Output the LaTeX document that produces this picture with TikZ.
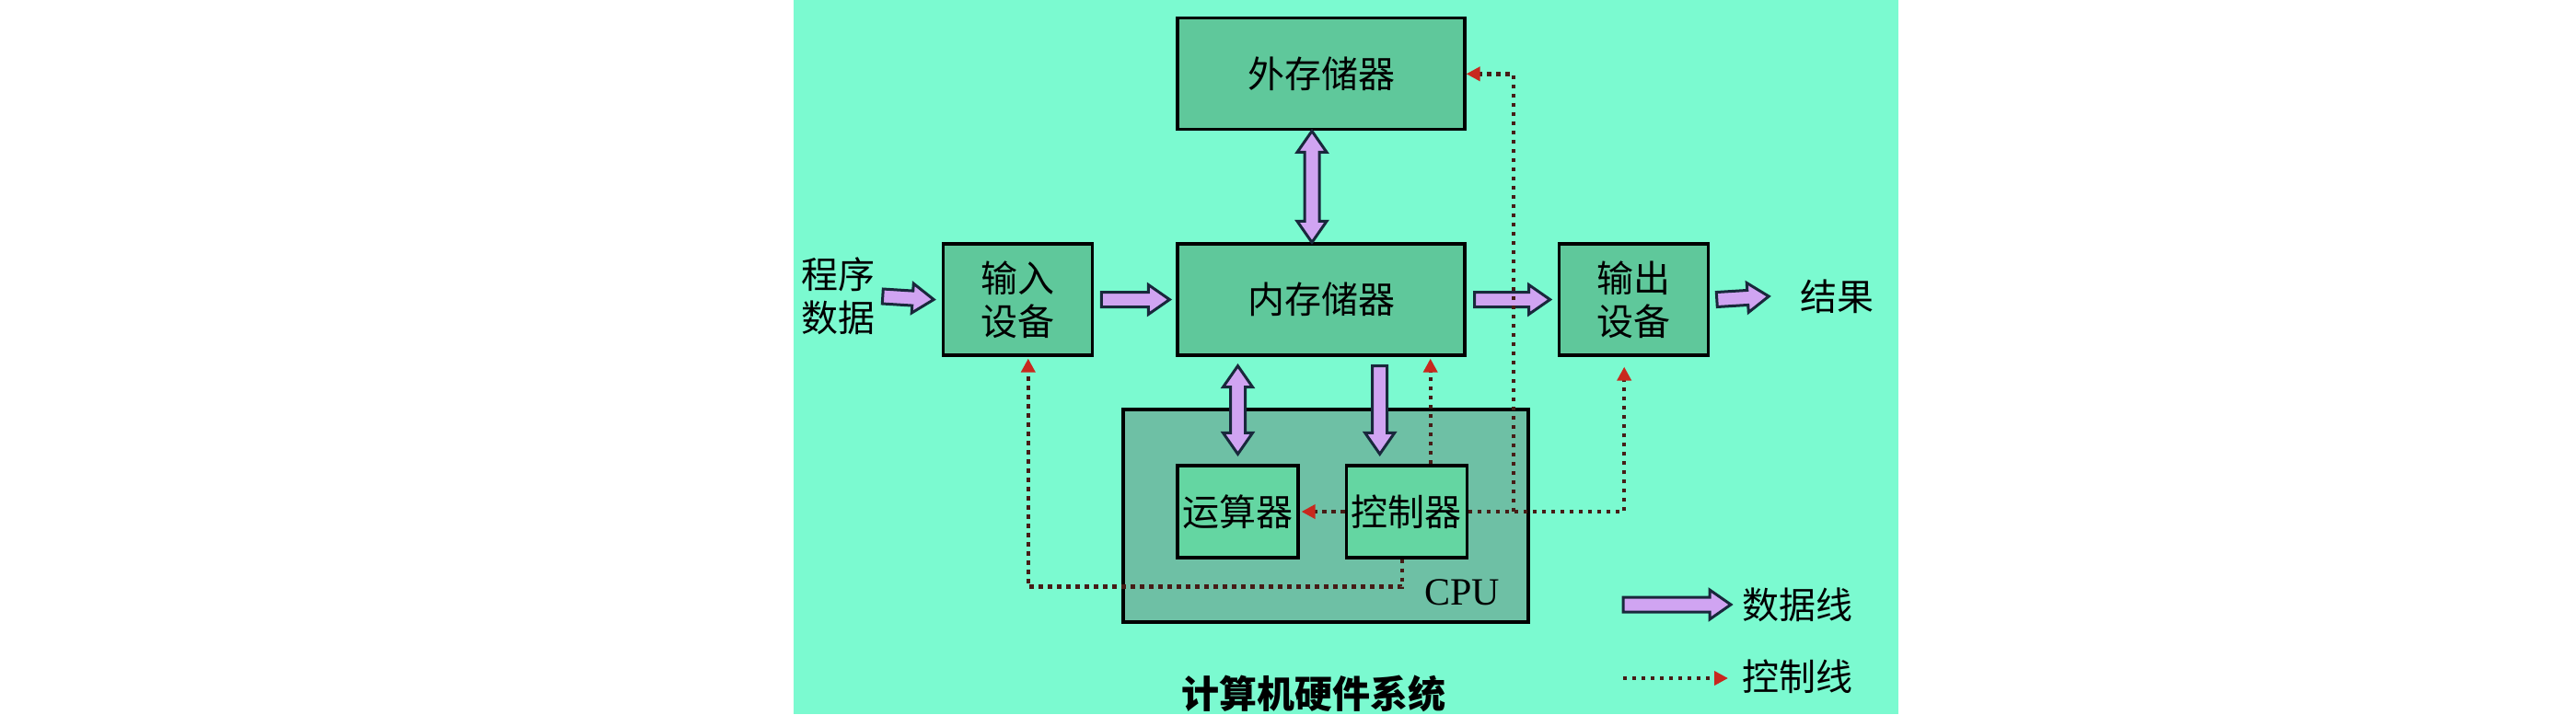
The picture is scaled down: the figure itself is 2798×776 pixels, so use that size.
\documentclass[tikz,border=0pt]{standalone}
\usepackage{fontspec}
\setmainfont{Noto Sans CJK SC}
\newfontfamily\latinserif{Liberation Serif}
\usepackage{tikz}
\usetikzlibrary{positioning}
\usetikzlibrary{calc}
\usetikzlibrary{arrows.meta}
\definecolor{slidebg}{RGB}{123,250,208}
\definecolor{unitfill}{RGB}{95,200,155}
\definecolor{cpufill}{RGB}{110,192,165}
\definecolor{corefill}{RGB}{100,214,162}
\definecolor{lilac}{RGB}{208,164,242}
\definecolor{arrowedge}{RGB}{25,40,60}
\definecolor{ctrldot}{RGB}{70,28,22}
\definecolor{ctrltip}{RGB}{200,40,30}
\tikzset{%
  unitbox/.style={rectangle,draw=black,fill=unitfill,thick,inner sep=0pt,align=center,font=\fontsize{10pt}{11.75pt}\selectfont}
}
\tikzset{%
  corebox/.style={unitbox,fill=corefill,minimum width=32.75pt,minimum height=25pt}
}
\tikzset{%
  labeltext/.style={inner sep=0pt,align=center,font=\fontsize{10pt}{11.75pt}\selectfont}
}
\tikzset{%
  datafat/.style={draw=arrowedge,fill=lilac,line width=0.75pt,line join=miter}
}
\tikzset{%
  ctrlline/.style={draw=ctrldot,line width=1.1pt,dash pattern=on 1.1pt off 1.4pt,-{Triangle[length=3.75pt,width=3.75pt,color=ctrltip]}}
}
\newcommand\fatshaft{2pt}
\newcommand\fathead{4pt}
\newcommand\fatlen{5.75pt}
\newcommand\dataarrow[2]{
    \coordinate (fa-s) at (#1);
    \coordinate (fa-t) at (#2);
    \coordinate (fa-n) at ($(fa-t)!\fatlen!(fa-s)$);
    \draw[datafat] ($(fa-s)!\fatshaft!90:(fa-t)$) -- ($(fa-n)!\fatshaft!90:(fa-t)$)
        -- ($(fa-n)!\fathead!90:(fa-t)$) -- (fa-t) -- ($(fa-n)!\fathead!-90:(fa-t)$)
        -- ($(fa-n)!\fatshaft!-90:(fa-t)$) -- ($(fa-s)!\fatshaft!-90:(fa-t)$) -- cycle;
}
\newcommand\dualarrow[2]{
    \coordinate (fa-s) at (#1);
    \coordinate (fa-t) at (#2);
    \coordinate (fa-n) at ($(fa-t)!\fatlen!(fa-s)$);
    \coordinate (fa-m) at ($(fa-s)!\fatlen!(fa-t)$);
    \draw[datafat] (fa-s) -- ($(fa-m)!\fathead!90:(fa-t)$) -- ($(fa-m)!\fatshaft!90:(fa-t)$)
        -- ($(fa-n)!\fatshaft!90:(fa-t)$) -- ($(fa-n)!\fathead!90:(fa-t)$) -- (fa-t)
        -- ($(fa-n)!\fathead!-90:(fa-t)$) -- ($(fa-n)!\fatshaft!-90:(fa-t)$)
        -- ($(fa-m)!\fatshaft!-90:(fa-t)$) -- ($(fa-m)!\fathead!-90:(fa-t)$) -- cycle;
}

\begin{document}
\begin{tikzpicture}[x=0.25pt,y=-0.25pt]
            \useasboundingbox (0,0) rectangle (2798,776);
            \fill[white] (0,0) rectangle (2798,776);
            \fill[slidebg] (862,0) rectangle (2062,776);

            % cpu and its parts
            \node[unitbox,fill=cpufill,minimum width=110pt,minimum height=57.75pt](cpu) at (1440,560.5){};
            \node[corebox](alu) at (1344.5,556){运算器};
            \node[corebox,right=12.25pt of alu](ctrl){控制器};
            \node[font=\latinserif\fontsize{10.5pt}{12pt}\selectfont,inner sep=0pt](cpulabel) at (1588,644){CPU};

            % storage and devices
            \node[unitbox,minimum width=78pt,minimum height=30.25pt](mem) at (1435,325.5){内存储器};
            \node[unitbox,minimum width=78pt,minimum height=30.25pt,above=30.25pt of mem](ext){外存储器};
            \node[unitbox,minimum width=40.5pt,minimum height=30.25pt,left=22.25pt of mem](input){输入\\设备};
            \node[unitbox,minimum width=40.5pt,minimum height=30.25pt,right=24.75pt of mem](output){输出\\设备};
            \node[labeltext](prog) at (910,322){程序\\数据};
            \node[labeltext](result) at (1995,322){结果};

            % data lines
            \dataarrow{$(prog.east)+(8,0)$}{$(input.west)+(-9,0)$}
            \dataarrow{$(input.east)+(8,0)$}{$(mem.west)+(-7,0)$}
            \dataarrow{$(mem.east)+(9,0)$}{$(output.west)+(-8,0)$}
            \dataarrow{$(output.east)+(8,0)$}{$(result.west)+(-33,0)$}
            \dualarrow{$(ext.south)+(-10,0)$}{$(mem.north)+(-10,0)$}
            \dualarrow{$(mem.south -| alu.north)+(0,10)$}{$(alu.north)+(0,-11)$}
            \dataarrow{$(mem.south -| ctrl.north)+(-29,10)$}{$(ctrl.north)+(-29,-11)$}

            % control lines
            \coordinate (split) at ($(ctrl.east)+(49,0)$);
            \draw[ctrlline] ($(ctrl.north)+(26,0)$) -- ($(mem.south -| ctrl.north)+(26,2)$);
            \draw[ctrlline] (ctrl.west) -- ($(alu.east)+(2,0)$);
            \draw[ctrlline] (ctrl.east) -| ($(output.south)+(-10,11)$);
            \draw[ctrlline] (split) |- (ext.east);
            \draw[ctrlline] ($(ctrl.south)+(-5,0)$) -- ++(0,30) -| ($(input.south)+(11,2)$);

            % key
            \coordinate (keydata) at (1763,657);
            \coordinate (keydatatip) at (1880,657);
            \dataarrow{keydata}{keydatatip}
            \node[labeltext,anchor=west](keydatatext) at (1892,657){数据线};
            \coordinate (keyctrl) at (1763,737);
            \coordinate (keyctrltip) at (1877,737);
            \draw[ctrlline] (keyctrl) -- (keyctrltip);
            \node[labeltext,anchor=west](keyctrltext) at (1892,735){控制线};

            \node[labeltext,font=\fontsize{10.25pt}{12pt}\selectfont\bfseries](title) at (1427,754){计算机硬件系统};
        \end{tikzpicture}
\end{document}
